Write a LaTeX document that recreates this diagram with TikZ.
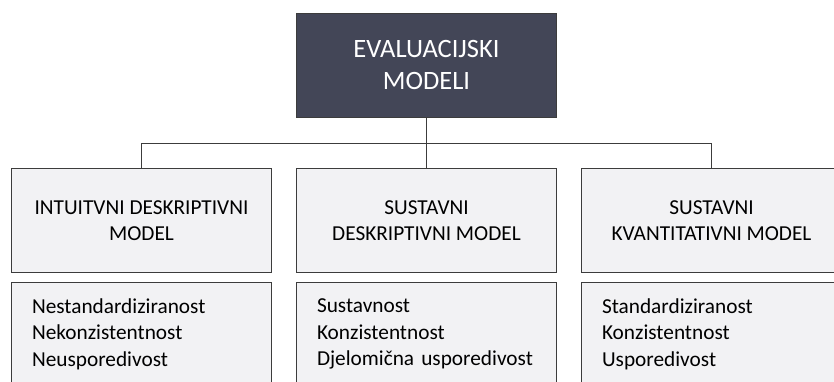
\documentclass[tikz,border=0pt]{standalone}
\usepackage{fontspec}
\setmainfont{Carlito}
\usepackage{tikz}
\usetikzlibrary{positioning}
\definecolor{titlefill}{HTML}{434657}
\definecolor{boxfill}{HTML}{F2F2F4}
\definecolor{edgegray}{HTML}{3C3C3C}
\tikzstyle{tnode} = [rectangle, draw=edgegray, fill=titlefill, text=white, minimum width=260pt, minimum height=104pt, align=center, font=\fontsize{26.5}{32}\selectfont]
\tikzstyle{cnode} = [rectangle, draw=edgegray, fill=boxfill, minimum width=260pt, minimum height=104pt, align=center, font=\fontsize{21.3}{26}\selectfont]
\tikzstyle{lnode} = [rectangle, draw=edgegray, fill=boxfill, minimum width=260pt, minimum height=104pt, text width=219pt, inner xsep=20pt, align=left, font=\fontsize{21.3}{26.5}\selectfont]
\tikzstyle{line} = [draw=edgegray, line width=0.9pt]

\begin{document}
\begin{tikzpicture}[x=1pt, y=-1pt]
			\useasboundingbox [fill=white] (0,0) rectangle (834,381);
			\node [tnode] (top) at (426.5, 65) {EVALUACIJSKI\\MODELI};
			\node [cnode] (intuit) at (141.5, 220.5) {INTUITVNI DESKRIPTIVNI\\MODEL};
			\node [cnode] (sdesc) at (426.5, 220.5) {SUSTAVNI\\DESKRIPTIVNI MODEL};
			\node [cnode] (skvant) at (711.5, 220.5) {SUSTAVNI\\KVANTITATIVNI MODEL};
			\node [lnode] (intuitl) at (141.5, 334) {Nestandardiziranost\\Nekonzistentnost\\Neusporedivost};
			\node [lnode] (sdescl) at (426.5, 334) {Sustavnost\\Konzistentnost\\Djelomična usporedivost};
			\node [lnode] (skvantl) at (711.5, 334) {Standardiziranost\\Konzistentnost\\Usporedivost};
			\coordinate (jl) at (141.5, 143);
			\coordinate (jr) at (711.5, 143);
		
			\path [line] (top) -- (sdesc);
			\path [line] (jl) -- (jr);
			\path [line] (jl) -- (intuit);
			\path [line] (jr) -- (skvant);
		\end{tikzpicture}
\end{document}
